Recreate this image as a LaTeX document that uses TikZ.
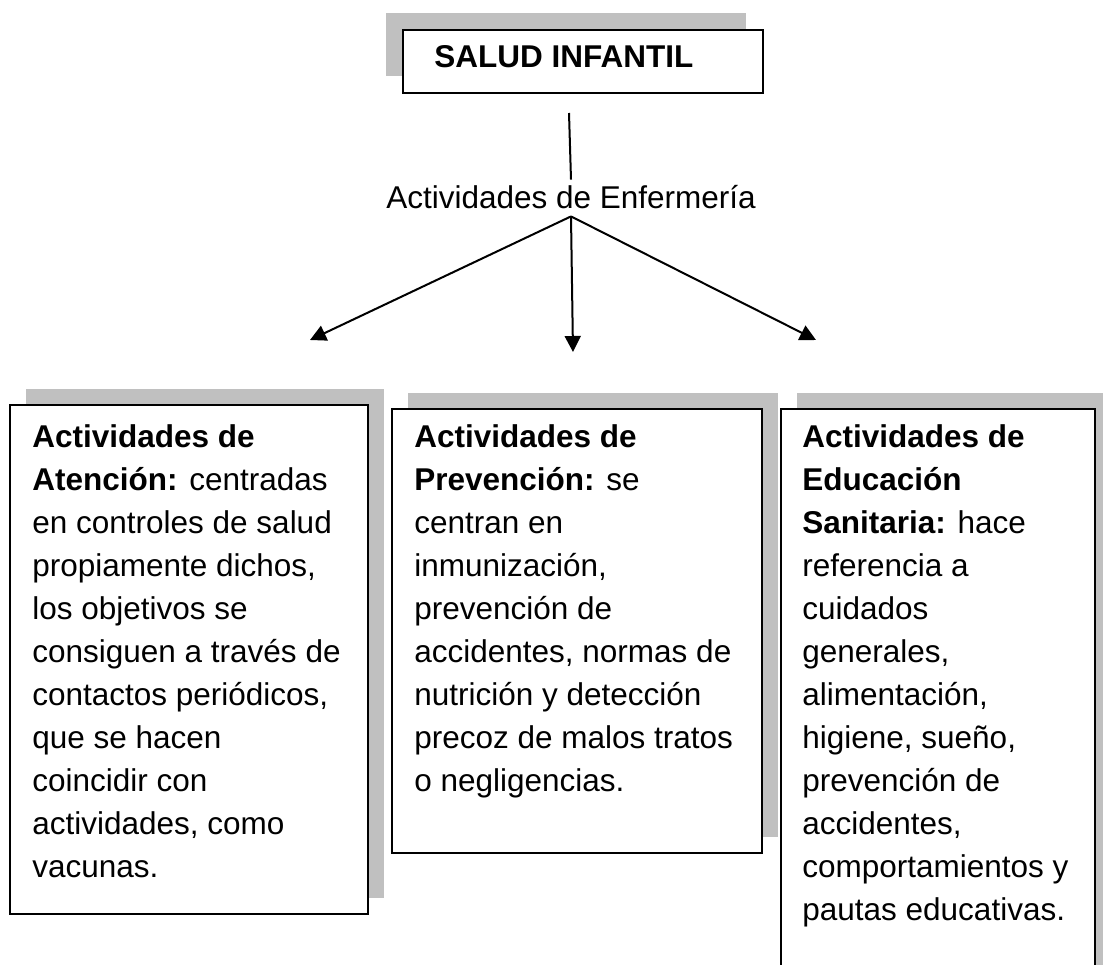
\documentclass[tikz,border=0pt]{standalone}
\usepackage{fontspec}
\setmainfont{Liberation Sans}
\usepackage{xcolor}
\usepackage{tikz}
\usetikzlibrary{arrows.meta}
\usetikzlibrary{shadows}

\definecolor{sombra}{RGB}{192,192,192}

\tikzset{
    caja/.style={draw, line width=1.2pt, fill=white, anchor=north west, inner sep=0pt},
    sombraarriba/.style={general shadow={fill=sombra, shadow xshift=-8.5pt, shadow yshift=8.5pt}},
    sombraabajo/.style={general shadow={fill=sombra, shadow xshift=8pt, shadow yshift=8pt}},
    texto/.style={font=\fontsize{15.75pt}{21.5pt}\selectfont, inner sep=0pt, align=left},
    flecha/.style={line width=1pt, -{Triangle[length=8pt,width=8pt]}}
}

\begin{document}
\begin{tikzpicture}[x=0.5pt, y=-0.5pt]
    \useasboundingbox (0,0) rectangle (1103,964);
    \clip (0,0) rectangle (1103,964);

    % Título
    \node[caja, sombraarriba, minimum width=180pt, minimum height=31.5pt] (salud) at (402,29) {};
    \node[texto, font=\fontsize{15.75pt}{21.5pt}\selectfont\bfseries, anchor=base west] (saludtxt) at (434,67) {SALUD INFANTIL};

    % Actividades de Enfermería
    \node[texto, text height=14pt, text depth=4pt, anchor=base] (enf) at (571,208) {Actividades de Enfermería};
    \coordinate (tallo) at (569,113);
    \draw[line width=1pt] (tallo) -- (enf.north);

    % Flechas
    \coordinate (puntaA) at (310,340);
    \coordinate (puntaP) at (573,352);
    \coordinate (puntaE) at (816,340);
    \draw[flecha] (enf.south) -- (puntaA);
    \draw[flecha] (enf.south) -- (puntaP);
    \draw[flecha] (enf.south) -- (puntaE);

    % Cajas
    \node[caja, sombraabajo, minimum width=179pt, minimum height=254.5pt] (atencion) at (9,404) {};
    \node[caja, sombraabajo, minimum width=185pt, minimum height=222pt] (prevencion) at (391,408) {};
    \node[caja, sombraabajo, minimum width=157pt, minimum height=300pt] (educacion) at (780,408) {};

    % Textos de las cajas
    \node[texto, anchor=north west] (atenciontxt) at (32,424) {\textbf{Actividades de}\\
        \textbf{Atención:} centradas\\
        en controles de salud\\
        propiamente dichos,\\
        los objetivos se\\
        consiguen a través de\\
        contactos periódicos,\\
        que se hacen\\
        coincidir con\\
        actividades, como\\
        vacunas.};
    \node[texto, anchor=north west] (prevenciontxt) at (414,424) {\textbf{Actividades de}\\
        \textbf{Prevención:} se\\
        centran en\\
        inmunización,\\
        prevención de\\
        accidentes, normas de\\
        nutrición y detección\\
        precoz de malos tratos\\
        o negligencias.};
    \node[texto, anchor=north west] (educaciontxt) at (802,424) {\textbf{Actividades de}\\
        \textbf{Educación}\\
        \textbf{Sanitaria:} hace\\
        referencia a\\
        cuidados\\
        generales,\\
        alimentación,\\
        higiene, sueño,\\
        prevención de\\
        accidentes,\\
        comportamientos y\\
        pautas educativas.};
\end{tikzpicture}
\end{document}
